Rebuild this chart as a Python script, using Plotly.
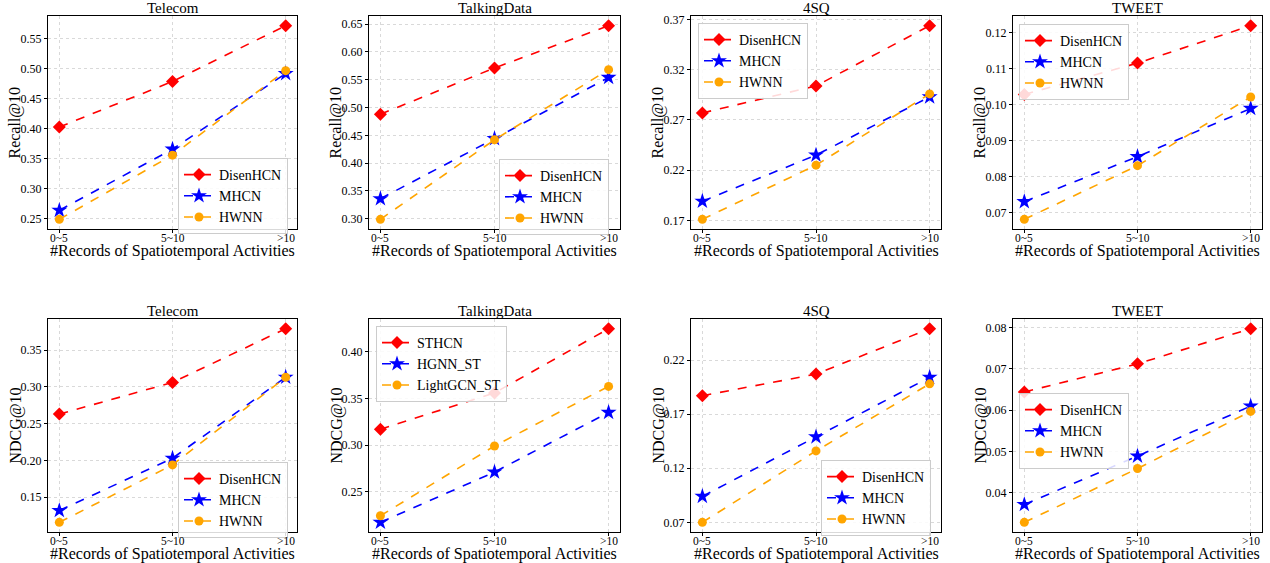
import plotly.graph_objects as go

categories = ["0~5", "5~10", ">10"]
datasets = ["Telecom", "TalkingData", "4SQ", "TWEET"]

# Recall@10 per dataset (Telecom, TalkingData, 4SQ, TWEET)
recall_disenhcn = [[0.403, 0.479, 0.572], [0.488, 0.571, 0.647], [0.277, 0.304, 0.364], [0.1029, 0.1116, 0.1220]]
recall_mhcn = [[0.264, 0.366, 0.492], [0.336, 0.444, 0.554], [0.189, 0.235, 0.293], [0.0731, 0.0856, 0.0990]]
recall_hwnn = [[0.249, 0.356, 0.497], [0.299, 0.442, 0.568], [0.171, 0.225, 0.296], [0.0682, 0.0831, 0.1022]]

# NDCG@10 per dataset
ndcg_disenhcn = [[0.263, 0.306, 0.379], [0.317, 0.356, 0.425], [0.187, 0.207, 0.249], [0.0644, 0.0712, 0.0797]]
ndcg_mhcn = [[0.132, 0.203, 0.313], [0.217, 0.271, 0.335], [0.094, 0.149, 0.204], [0.0372, 0.0489, 0.0610]]
ndcg_hwnn = [[0.116, 0.194, 0.313], [0.224, 0.299, 0.363], [0.070, 0.136, 0.198], [0.0329, 0.0459, 0.0597]]

names_default = ["DisenHCN", "MHCN", "HWNN"]
names_talkingdata_ndcg = ["STHCN", "HGNN_ST", "LightGCN_ST"]

recall_ticks = [[0.25, 0.30, 0.35, 0.40, 0.45, 0.50, 0.55],
                [0.30, 0.35, 0.40, 0.45, 0.50, 0.55, 0.60, 0.65],
                [0.17, 0.22, 0.27, 0.32, 0.37],
                [0.07, 0.08, 0.09, 0.10, 0.11, 0.12]]
ndcg_ticks = [[0.15, 0.20, 0.25, 0.30, 0.35],
              [0.25, 0.30, 0.35, 0.40],
              [0.07, 0.12, 0.17, 0.22, 0.27],
              [0.04, 0.05, 0.06, 0.07, 0.08]]

x_title = "#Records of Spatiotemporal Activities"

W, H = 1270, 563
FONT = "Times New Roman, Liberation Serif, serif"
colors = ["red", "blue", "orange"]
symbols = ["diamond", "star", "circle"]
msizes = [10, 12, 9]

x_px = [(48, 297), (369, 620), (691, 941), (1013, 1262)]
y_px = [(16, 229), (319, 532)]

legend_pos = {
    (0, 0): (178, 158), (0, 1): (499, 159), (0, 2): (698, 23), (0, 3): (1019, 24),
    (1, 0): (178, 462), (1, 1): (376, 326), (1, 2): (821, 460), (1, 3): (1019, 393),
}


def fx(px):
    return px / W


def fy(py):
    return 1 - py / H


fig = go.Figure()
layout = dict(width=W, height=H, margin=dict(l=0, r=0, t=0, b=0, autoexpand=False),
              paper_bgcolor="white", plot_bgcolor="white",
              font=dict(family=FONT, color="black"), annotations=[])

idx = 0
for r, (series_sets, ticks, ylabel) in enumerate([
        ([recall_disenhcn, recall_mhcn, recall_hwnn], recall_ticks, "Recall@10"),
        ([ndcg_disenhcn, ndcg_mhcn, ndcg_hwnn], ndcg_ticks, "NDCG@10")]):
    for c in range(4):
        idx += 1
        xa = "x" if idx == 1 else f"x{idx}"
        ya = "y" if idx == 1 else f"y{idx}"
        leg = "legend" if idx == 1 else f"legend{idx}"
        names = names_talkingdata_ndcg if (r == 1 and c == 1) else names_default
        allv = []
        for k in range(3):
            vals = series_sets[k][c]
            allv += vals
            fig.add_trace(go.Scatter(
                x=categories, y=vals, mode="lines+markers", name=names[k],
                xaxis=xa, yaxis=ya, legend=leg,
                line=dict(color=colors[k], dash="dash", width=1.6),
                marker=dict(symbol=symbols[k], size=msizes[k], color=colors[k],
                            line=dict(width=0))))
        lo, hi = min(allv), max(allv)
        pad = (hi - lo) * 0.05
        x0, x1 = x_px[c]
        y0, y1 = y_px[r]
        axis_common = dict(showline=True, mirror=True, linecolor="black", linewidth=1.3,
                           ticks="outside", ticklen=3, tickcolor="black", tickwidth=1,
                           showgrid=True, gridcolor="#d9d9d9", griddash="dot", gridwidth=1,
                           zeroline=False, automargin=False,
                           tickfont=dict(size=12, family=FONT, color="black"))
        layout["xaxis" if idx == 1 else f"xaxis{idx}"] = dict(
            axis_common, domain=[fx(x0), fx(x1)], anchor=ya, type="category",
            range=[-0.1, 2.1], showticklabels=False)
        layout["yaxis" if idx == 1 else f"yaxis{idx}"] = dict(
            axis_common, domain=[fy(y1), fy(y0)], anchor=xa,
            range=[lo - pad, hi + pad], tickvals=ticks[c],
            ticktext=[f"{t:.2f}" for t in ticks[c]])
        lx, ly = legend_pos[(r, c)]
        layout[leg] = dict(x=fx(lx), y=fy(ly), xanchor="left", yanchor="top",
                           bgcolor="rgba(255,255,255,0.85)", bordercolor="#cccccc", borderwidth=1,
                           font=dict(size=14, family=FONT, color="black"),
                           tracegroupgap=0, itemwidth=30)
        # x tick labels placed on the x axis scale
        for cat in categories:
            layout["annotations"].append(dict(
                text=cat, x=cat, xref=xa, y=fy(y1 + 9), yref="paper",
                xanchor="center", yanchor="middle", showarrow=False,
                font=dict(size=11.5, family=FONT, color="black")))
        # subplot title
        layout["annotations"].append(dict(
            text=datasets[c], x=fx((x0 + x1) / 2), y=fy(y0 - 8), xref="paper", yref="paper",
            xanchor="center", yanchor="middle", showarrow=False,
            font=dict(size=15, family=FONT, color="black")))
        # x axis title
        layout["annotations"].append(dict(
            text=x_title, x=fx((x0 + x1) / 2), y=fy(y1 + 22), xref="paper", yref="paper",
            xanchor="center", yanchor="middle", showarrow=False,
            font=dict(size=16, family=FONT, color="black")))
        # y axis title
        layout["annotations"].append(dict(
            text=ylabel, x=fx(x0 - 33), y=fy((y0 + y1) / 2), xref="paper", yref="paper",
            xanchor="center", yanchor="middle", showarrow=False, textangle=-90,
            font=dict(size=16, family=FONT, color="black")))

fig.update_layout(**layout)
fig.write_html("out.html", config={"displayModeBar": False},
               post_script="document.body.style.margin='0';document.body.style.overflow='hidden';")
